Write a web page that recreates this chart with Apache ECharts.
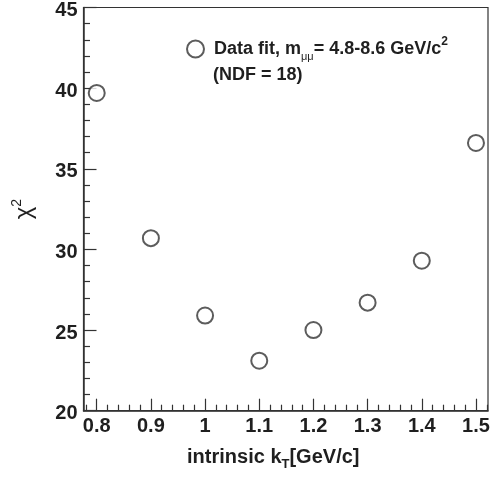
<!DOCTYPE html>
<html>
<head>
<meta charset="utf-8">
<script src="https://cdn.jsdelivr.net/npm/echarts@6/dist/echarts.min.js"></script>
<style>html,body{margin:0;padding:0;background:#fff}#c{width:491px;height:478px}</style>
</head>
<body>
<div id="c"></div>
<script>
const kT = [0.8, 0.9, 1.0, 1.1, 1.2, 1.3, 1.4, 1.5];
const chi2 = [39.7, 30.7, 25.9, 23.1, 25.0, 26.7, 29.3, 36.6];
const xMajorTicks = [0.8, 0.9, 1.0, 1.1, 1.2, 1.3, 1.4, 1.5];
const xMinorTicks = [0.78, 0.82, 0.84, 0.86, 0.88, 0.92, 0.94, 0.96, 0.98, 1.02, 1.04, 1.06, 1.08,
  1.12, 1.14, 1.16, 1.18, 1.22, 1.24, 1.26, 1.28, 1.32, 1.34, 1.36, 1.38, 1.42, 1.44, 1.46, 1.48, 1.52];
const xLabels = ['0.8', '0.9', '1', '1.1', '1.2', '1.3', '1.4', '1.5'];

const FONT = '"Liberation Sans", Arial, Helvetica, sans-serif';
const TXT = '#1f1f1f';
const chart = echarts.init(document.getElementById('c'), null, {renderer: 'canvas'});
const option = {
  animation: false,
  backgroundColor: '#fff',
  grid: {left: 83.5, right: 3, top: 7.5, bottom: 67.3, containLabel: false, outerBoundsMode: 'none',
    show: true, borderColor: '#333', borderWidth: 1.2, backgroundColor: 'transparent'},
  legend: {
    left: 181, top: 31, itemWidth: 17, itemHeight: 17, itemGap: 0,
    icon: 'emptyCircle',
    data: [{name: 'Data fit'}],
    formatter: () => '{t0|Data fit, m}{sub|μμ}{t|= 4.8-8.6 GeV/c}{sup|2}',
    textStyle: {
      fontFamily: FONT, fontWeight: 'bold', color: TXT, fontSize: 18,
      rich: {
        t0: {fontFamily: FONT, fontWeight: 'bold', fontSize: 18, color: TXT, padding: [0, 0, 0, 5]},
        t: {fontFamily: FONT, fontWeight: 'bold', fontSize: 18, color: TXT},
        sub: {fontFamily: FONT, fontWeight: 'normal', fontSize: 11, color: TXT, padding: [16, 0, 0, 0]},
        sup: {fontFamily: FONT, fontWeight: 'bold', fontSize: 12, color: TXT, padding: [0, 0, 14, 0]}
      }
    }
  },
  graphic: [{
    type: 'text', left: 213, top: 66,
    style: {text: '(NDF = 18)', font: 'bold 18px ' + FONT, fill: TXT}
  }],
  xAxis: [{
    type: 'value', min: 0.7756, max: 1.5222, position: 'bottom',
    axisLine: {show: true, lineStyle: {color: '#333', width: 1.5}},
    axisTick: {show: true, inside: true, length: 12, customValues: xMajorTicks, lineStyle: {color: '#333', width: 1.2}},
    axisLabel: {
      customValues: xMajorTicks, margin: 6, fontSize: 20, fontWeight: 'bold', fontFamily: FONT, color: TXT,
      formatter: v => xLabels[xMajorTicks.findIndex(m => Math.abs(m - v) < 1e-6)] ?? ''
    },
    splitLine: {show: false},
    name: '{a|intrinsic k}{s|T}{a|[GeV/c]}', nameLocation: 'middle', nameGap: 33,
    nameTextStyle: {
      padding: [0, 25, 0, 0],
      rich: {
        a: {fontFamily: FONT, fontWeight: 'bold', fontSize: 20, color: TXT},
        s: {fontFamily: FONT, fontWeight: 'bold', fontSize: 13, color: TXT, padding: [14, 0, 0, 0]}
      }
    }
  }, {
    type: 'value', min: 0.7756, max: 1.5222, position: 'bottom', offset: 0,
    axisLine: {show: false},
    axisTick: {show: true, inside: true, length: 6, customValues: xMinorTicks, lineStyle: {color: '#333', width: 1.2}},
    axisLabel: {show: false},
    splitLine: {show: false}
  }],
  yAxis: {
    type: 'value', min: 20, max: 45, interval: 5,
    axisLine: {show: true, lineStyle: {color: '#333', width: 1.5}},
    axisTick: {show: true, inside: true, length: 13, lineStyle: {color: '#333', width: 1.2}},
    minorTick: {show: true, splitNumber: 5, length: 6.5, lineStyle: {color: '#333', width: 1.2}},
    axisLabel: {
      margin: 6, fontSize: 20, fontWeight: 'bold', fontFamily: FONT, color: TXT,
      formatter: v => '{v|' + v + '}',
      rich: {v: {fontSize: 20, fontWeight: 'bold', fontFamily: FONT, color: TXT, padding: [6, 0, 0, 0]}}
    },
    splitLine: {show: false},
    minorSplitLine: {show: false},
    name: '{a|χ}{s|2}', nameLocation: 'middle', nameGap: 45, nameRotate: 90,
    nameTextStyle: {
      rich: {
        a: {fontFamily: FONT, fontWeight: 'normal', fontSize: 24, color: TXT},
        s: {fontFamily: FONT, fontWeight: 'normal', fontSize: 14, color: TXT, padding: [0, 0, 14, 0]}
      }
    }
  },
  series: [{
    name: 'Data fit', type: 'scatter', xAxisIndex: 0,
    data: kT.map((x, i) => [x, chi2[i]]),
    symbol: 'emptyCircle', symbolSize: 16,
    itemStyle: {color: '#333', borderColor: '#333', borderWidth: 1.2}
  }]
};
chart.setOption(option);
</script>
</body>
</html>
